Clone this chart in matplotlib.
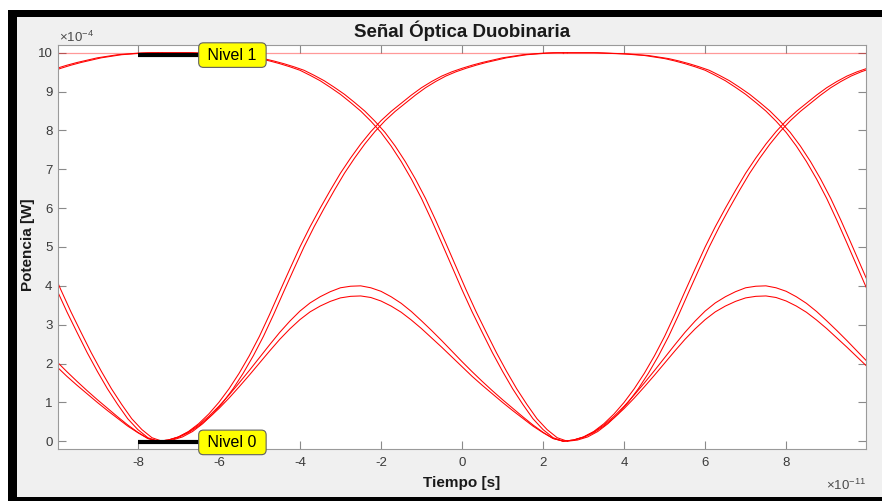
import numpy as np
import matplotlib
matplotlib.use("Agg")
import matplotlib.pyplot as plt
from matplotlib.patches import Rectangle

plt.rcParams['font.family'] = ['Liberation Sans', 'DejaVu Sans']
plt.rcParams['axes.unicode_minus'] = False
plt.rcParams['mathtext.fontset'] = 'custom'
plt.rcParams['mathtext.rm'] = 'Liberation Sans'

# time inside one bit slot (units of 1e-11 s), slot runs from one zero to the next
t_slot = np.linspace(-7.5, 2.5, 41)
slot_offsets = [-10, 0, 10]

# power shapes over one slot, normalised to the "1" level (read every 0.25e-11 s)
rise = [0.0, 0.003, 0.011, 0.025, 0.045, 0.07, 0.10, 0.135, 0.175, 0.22,
        0.27, 0.326, 0.385, 0.443, 0.50, 0.552, 0.60, 0.646, 0.69, 0.729,
        0.765, 0.797, 0.825, 0.849, 0.87, 0.891, 0.91, 0.926, 0.94, 0.951,
        0.96, 0.968, 0.975, 0.981, 0.987, 0.991, 0.995, 0.997, 0.999, 1.0, 1.0]
fall = [1.0, 1.0, 1.0, 1.0, 0.999, 0.998, 0.997, 0.995, 0.993, 0.989,
        0.985, 0.979, 0.972, 0.964, 0.955, 0.942, 0.928, 0.911, 0.893, 0.872,
        0.85, 0.824, 0.795, 0.76, 0.72, 0.675, 0.625, 0.569, 0.51, 0.45,
        0.39, 0.333, 0.28, 0.228, 0.18, 0.135, 0.095, 0.058, 0.03, 0.009, 0.0]
bump_hi = [0.0, 0.003, 0.011, 0.024, 0.042, 0.064, 0.09, 0.119, 0.15, 0.182,
           0.215, 0.248, 0.28, 0.309, 0.335, 0.356, 0.372, 0.385, 0.395, 0.399,
           0.40, 0.395, 0.386, 0.372, 0.355, 0.334, 0.31, 0.285, 0.259, 0.232,
           0.205, 0.179, 0.154, 0.13, 0.107, 0.085, 0.063, 0.042, 0.023, 0.007, 0.0]
bump_lo = [0.0, 0.003, 0.010, 0.022, 0.039, 0.060, 0.084, 0.111, 0.140, 0.170,
           0.201, 0.232, 0.262, 0.289, 0.313, 0.333, 0.348, 0.360, 0.369, 0.373,
           0.374, 0.370, 0.361, 0.348, 0.332, 0.312, 0.29, 0.266, 0.242, 0.217,
           0.192, 0.167, 0.144, 0.122, 0.100, 0.079, 0.059, 0.039, 0.022, 0.007, 0.0]
flat = [1.0] * 41
trace_jitter = [0.0, 0.1]   # two slightly delayed copies of the transitions

p_one = 10  # level "1" in units of 1e-4 W
nivel_y = [9.94, -0.03]
nivel_txt = ["Nivel 1", "Nivel 0"]

fig = plt.figure(figsize=(8.82, 5.01), dpi=100)
fig.patch.set_facecolor('white')
fig.patches.append(Rectangle((8/882, 0), 1, 1 - 10/501, transform=fig.transFigure,
                             fc='black', ec='none', zorder=-3))
fig.patches.append(Rectangle((17/882, 4/501), 1, 480/501, transform=fig.transFigure,
                             fc='#F0F0F0', ec='none', zorder=-2))

ax = fig.add_axes([58/882, 52/501, 808/882, 404/501])

for off in slot_offsets:
    t = t_slot + off
    for j in trace_jitter:
        ax.plot(t + j, np.array(rise) * p_one, color='red', lw=0.75)
        ax.plot(t + j, np.array(fall) * p_one, color='red', lw=0.75)
    ax.plot(t, np.array(bump_hi) * p_one, color='red', lw=0.75)
    ax.plot(t, np.array(bump_lo) * p_one, color='red', lw=0.75)
    ax.plot(t, np.array(flat) * p_one, color='red', lw=0.9, alpha=0.4)

for y, s in zip(nivel_y, nivel_txt):
    ax.plot([-8, -6.5], [y, y], color='black', lw=3, solid_capstyle='butt', zorder=4)
    ax.text(-6.38, y, ' ' + s + ' ', fontsize=11.5, ha='left', va='center', zorder=6,
            bbox=dict(boxstyle='round,pad=0.3', fc='#FFFF00', ec='#606060', lw=0.8))

ax.set_xlim(-9.97, 9.97)
ax.set_ylim(-0.2, 10.2)
ax.set_xticks(np.arange(-8, 9, 2))
ax.set_yticks(np.arange(0, 11, 1))
ax.tick_params(direction='in', top=True, right=True, length=5.5, width=0.8,
               color='#8a8a8a', labelcolor='#3a3a3a', labelsize=9.5)
ax.tick_params(axis='x', pad=6)
ax.tick_params(axis='y', pad=4)
for sp in ax.spines.values():
    sp.set_color('#9a9a9a')
    sp.set_linewidth(0.8)

fig.text(462/882, 1 - 31/501, 'Señal Óptica Duobinaria', ha='center', va='center',
         fontsize=13.5, fontweight='bold', color='#1a1a1a')
fig.text(462/882, 1 - 483/501, 'Tiempo [s]', ha='center', va='center',
         fontsize=11, fontweight='bold', color='#1a1a1a')
fig.text(28/882, 1 - 245/501, 'Potencia [W]', ha='center', va='center', rotation=90,
         fontsize=11, fontweight='bold', color='#1a1a1a')
fig.text(59/882, 1 - 37/501, r'$\times10^{-4}$', ha='left', va='center',
         fontsize=9.5, color='#4a4a4a')
fig.text(866/882, 1 - 485/501, r'$\times10^{-11}$', ha='right', va='center',
         fontsize=9.5, color='#4a4a4a')

fig.savefig('out.png', dpi=100)
